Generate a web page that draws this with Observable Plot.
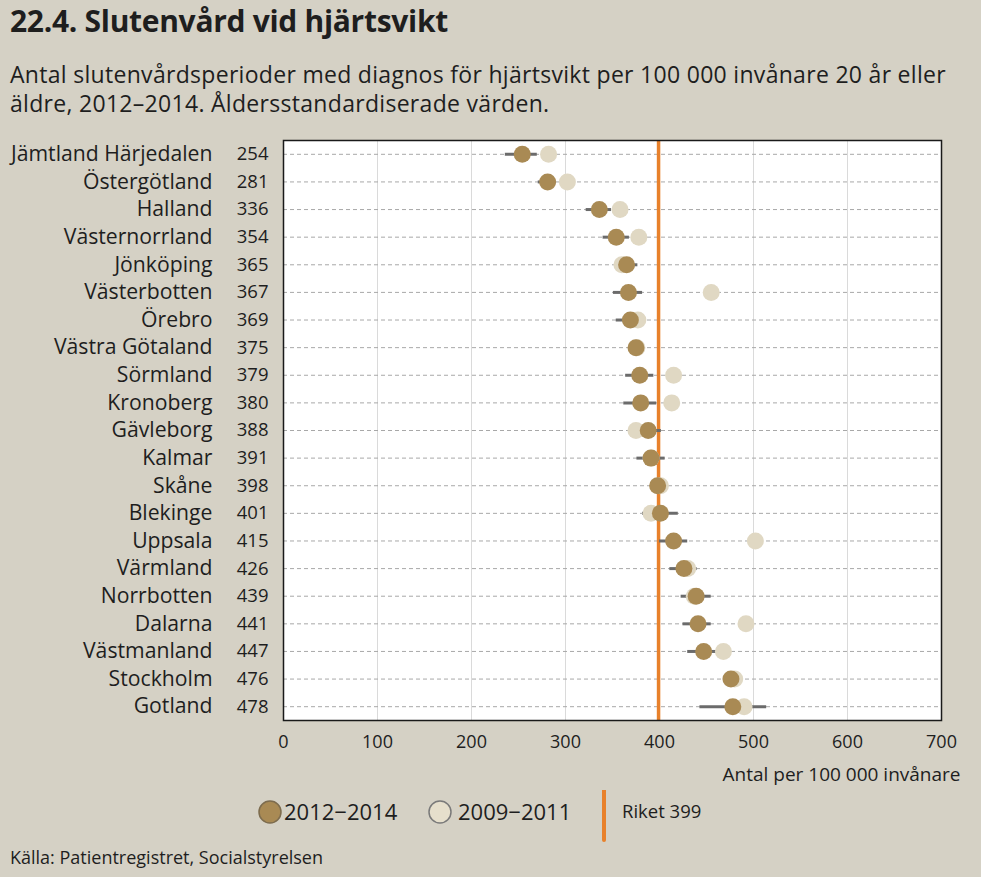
<!DOCTYPE html>
<html>
<head>
<meta charset="utf-8">
<script src="https://cdn.jsdelivr.net/npm/d3@7"></script>
<script src="https://cdn.jsdelivr.net/npm/@observablehq/plot@0.6"></script>
<style>
  html, body { margin:0; padding:0; }
  body { width:981px; height:877px; background:#d5d1c5; position:relative; overflow:hidden; font-family:"Open Sans", sans-serif; color:#1e1e1e; }
  #title { position:absolute; left:10px; top:0px; font-size:30px; font-weight:700; letter-spacing:-0.3px; }
  .sub { position:absolute; left:10px; font-size:23px; letter-spacing:0.3px; white-space:nowrap; line-height:28px; }
  #sub1 { top:60px; }
  #sub2 { top:89px; }
  #chart { position:absolute; left:0; top:130px; }
  #legend { position:absolute; left:0; top:790px; width:981px; height:52px; }
  #caption { position:absolute; left:10px; top:845px; font-size:18px; }
</style>
</head>
<body>
<div id="title">22.4. Slutenvård vid hjärtsvikt</div>
<div class="sub" id="sub1">Antal slutenvårdsperioder med diagnos för hjärtsvikt per 100 000 invånare 20 år eller</div>
<div class="sub" id="sub2">äldre, 2012–2014. Åldersstandardiserade värden.</div>
<div id="chart"></div>
<div id="legend"></div>
<div id="caption">Källa: Patientregistret, Socialstyrelsen</div>
<script>
const regions = ["Jämtland Härjedalen","Östergötland","Halland","Västernorrland","Jönköping","Västerbotten","Örebro","Västra Götaland","Sörmland","Kronoberg","Gävleborg","Kalmar","Skåne","Blekinge","Uppsala","Värmland","Norrbotten","Dalarna","Västmanland","Stockholm","Gotland"];
const val2012 = [254,281,336,354,365,367,369,375,379,380,388,391,398,401,415,426,439,441,447,476,478];
const val2009 = [282,302,358,378,360,455,377,376,415,413,375,391,401,391,502,430,437,492,468,480,490];
const ciLow  = [236,271,322,340,354,351,354,371,364,362,374,376,392,382,400,411,423,425,430,472,443];
const ciHigh = [270,290,349,368,377,382,383,379,394,397,402,406,404,420,430,440,455,455,463,480,514];
const xTicks = [0,100,200,300,400,500,600,700];
const riket = 399;
const xLabel = "Antal per 100 000 invånare";
const seriesNames = ["2012−2014","2009−2011"];
const riketLabel = "Riket 399";

const C_DARK = "#a98a54", C_LIGHT = "#e0d8c3", C_ORANGE = "#e8812b", C_BAR = "#6b6b6b";

const data = regions.map((r,i)=>({region:r, v12:val2012[i], v09:val2009[i], lo:ciLow[i], hi:ciHigh[i]}));

const chart = Plot.plot({
  width:981, height:655,
  marginLeft:283, marginRight:40, marginTop:10, marginBottom:65,
  style:{background:"transparent", fontFamily:"Open Sans, sans-serif", fontSize:"18px", color:"#1e1e1e", overflow:"visible"},
  x:{domain:[0,700]},
  y:{domain:regions, type:"band", padding:0, round:false},
  marks:[
    Plot.frame({fill:"white"}),
    Plot.gridX(xTicks.slice(1,-1), {stroke:"#dadada", strokeOpacity:1, strokeWidth:1}),
    Plot.gridY({stroke:"#a8a8a8", strokeOpacity:1, strokeDasharray:"4,3", strokeWidth:1}),
    Plot.ruleX([riket], {stroke:C_ORANGE, strokeWidth:3.5}),
    Plot.ruleY(data, {y:"region", x1:"lo", x2:"hi", stroke:C_BAR, strokeWidth:3}),
    Plot.dot(data, {x:"v09", y:"region", r:8.5, fill:C_LIGHT}),
    Plot.dot(data, {x:"v12", y:"region", r:8.5, fill:C_DARK}),
    Plot.frame({stroke:"#1a1a1a", strokeWidth:1.5}),
    Plot.axisX({ticks:xTicks, tickSize:0, tickPadding:15, label:null, fontSize:18}),
    Plot.axisY({tickSize:0, tickPadding:71, label:null, fontSize:21.2}),
    Plot.text(data, {y:"region", text:d=>String(d.v12), frameAnchor:"left", dx:-15, textAnchor:"end", fontSize:18.5}),
    Plot.text([xLabel], {frameAnchor:"bottom-right", dx:19, dy:60, textAnchor:"end", fontSize:19})
  ]
});
document.getElementById("chart").appendChild(chart);

// legend
const lg = d3.select("#legend").append("svg").attr("width",981).attr("height",52)
  .style("font-family","Open Sans, sans-serif").style("fill","#1e1e1e");
const items = [
  {cx:270, fill:C_DARK, stroke:"#7d6c4e", label:seriesNames[0], tx:284},
  {cx:440, fill:"#e6dfcc", stroke:"#7a7a7a", label:seriesNames[1], tx:458}
];
items.forEach(it=>{
  lg.append("circle").attr("cx",it.cx).attr("cy",22).attr("r",11).attr("fill",it.fill).attr("stroke",it.stroke).attr("stroke-width",1.5);
  lg.append("text").attr("x",it.tx).attr("y",22).attr("dy","0.35em").attr("font-size",22).text(it.label);
});
lg.append("line").attr("x1",604).attr("x2",604).attr("y1",0).attr("y2",50).attr("stroke",C_ORANGE).attr("stroke-width",4).attr("stroke-linecap","round");
lg.append("text").attr("x",622).attr("y",22).attr("dy","0.35em").attr("font-size",18.5).text(riketLabel);
</script>
</body>
</html>
